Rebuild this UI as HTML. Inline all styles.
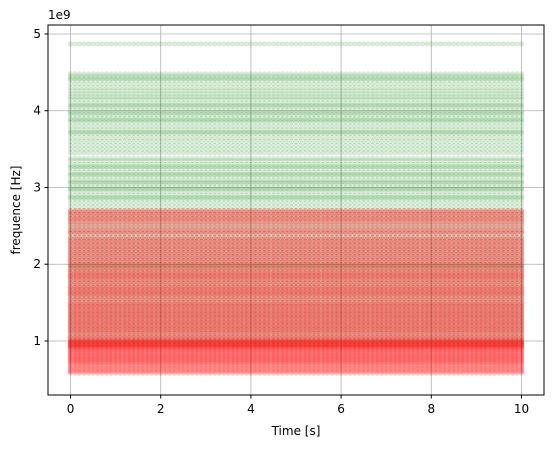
<!DOCTYPE html>
<html><head><meta charset="utf-8"><style>
body{margin:0;background:#fff;}
svg text{font-family:"DejaVu Sans","Liberation Sans",sans-serif;font-size:12px;fill:#000;}
</style></head><body>
<svg id="chart" width="554" height="448" xmlns="http://www.w3.org/2000/svg">
<g id="grid"></g>
<g id="marks"></g>
<rect x="48" y="25" width="496" height="370" fill="none" stroke="#000" stroke-width="1"/>
<g id="axes"></g>
<text x="48" y="19">1e9</text>
<text x="296" y="435" text-anchor="middle">Time [s]</text>
<text transform="translate(20,210) rotate(-90)" text-anchor="middle">frequence [Hz]</text>
</svg>
<script>
const xTicks=[0,2,4,6,8,10];
const yTicks=[1,2,3,4,5];
const greenFreqs=[4.87,4.48,4.45,4.42,4.4,4.35,4.3,4.26,4.22,4.18,4.15,4.1,4.07,4.05,4.0,3.97,3.95,3.9,3.88,3.85,3.8,3.75,3.72,3.7,3.65,3.6,3.55,3.5,3.45,3.38,3.35,3.3,3.27,3.25,3.2,3.17,3.15,3.1,3.07,3.05,3.0,2.98,2.95,2.9,2.87,2.85,2.8,2.75,2.7,2.65,2.6,2.55,2.5,2.45,2.4,2.35,2.3,2.25,2.2,2.15,2.1,2.05,2.0,1.98,1.95,1.9,1.85,1.8,1.75,1.7,1.65,1.6,1.55,1.5,1.45,1.4,1.35,1.3,1.25,1.2,1.15,1.1,1.05,1.0,0.95];
const redFreqs=[0.58,0.6,0.62,0.64,0.66,0.68,0.7,0.72,0.73,0.75,0.76,0.78,0.79,0.81,0.82,0.84,0.85,0.87,0.88,0.9,0.91,0.92,0.93,0.94,0.95,0.96,0.97,0.98,0.99,1.0,1.01,1.03,1.05,1.07,1.1,1.12,1.14,1.16,1.18,1.2,1.22,1.24,1.26,1.28,1.3,1.32,1.34,1.36,1.38,1.4,1.42,1.44,1.46,1.48,1.5,1.53,1.55,1.58,1.6,1.62,1.64,1.66,1.68,1.7,1.72,1.75,1.77,1.8,1.82,1.84,1.86,1.88,1.9,1.93,1.95,1.98,2.0,2.03,2.05,2.08,2.1,2.13,2.15,2.18,2.2,2.23,2.25,2.28,2.3,2.33,2.35,2.4,2.42,2.45,2.48,2.52,2.55,2.58,2.6,2.63,2.65,2.68,2.7];
const times=[];for(let i=0;i<=100;i++)times.push(i/10);
const X=v=>48+(v+0.5)*(496/11);
const Y=v=>395-(v-0.296)*76.75;
const NS='http://www.w3.org/2000/svg';
const grid=document.getElementById('grid'),axes=document.getElementById('axes'),marks=document.getElementById('marks');
function mk(t,a,p){const e=document.createElementNS(NS,t);for(const k in a)e.setAttribute(k,a[k]);p.appendChild(e);return e;}
xTicks.forEach(t=>{const x=X(t);
 const g=mk('line',{x1:x,x2:x,y1:25,y2:395,stroke:'#b0b0b0','stroke-width':0.8},grid);
 
 mk('line',{x1:x,x2:x,y1:395,y2:398.5,stroke:'#000'},axes);
 const l=mk('text',{x:x,y:413,'text-anchor':'middle'},axes);l.textContent=t;
 });
yTicks.forEach(t=>{const y=Y(t);
 const g=mk('line',{x1:48,x2:544,y1:y,y2:y,stroke:'#b0b0b0','stroke-width':0.8},grid);
 
 mk('line',{x1:44.5,x2:48,y1:y,y2:y,stroke:'#000'},axes);
 const l=mk('text',{x:41,y:y+4,'text-anchor':'end'},axes);l.textContent=t;
 });
function track(f,color,op,name){
 const g=mk('g',{fill:color,'fill-opacity':op},marks);
 
 times.forEach(t=>{mk('circle',{cx:X(t).toFixed(1),cy:Y(f).toFixed(1),r:2.6},g);});
}
greenFreqs.forEach(f=>track(f,'#008000',0.15,'green-track'));
redFreqs.forEach(f=>track(f,'#ff0000',0.2,'red-track'));
</script>
</body></html>
